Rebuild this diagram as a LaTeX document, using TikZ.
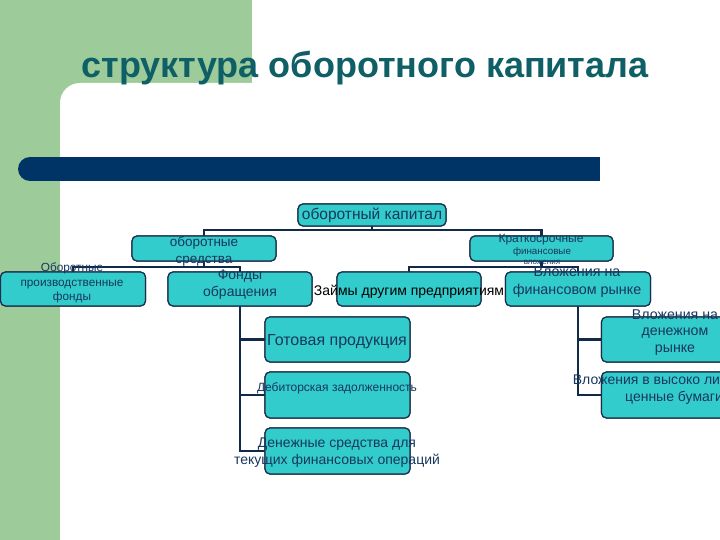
\documentclass[tikz,border=0pt]{standalone}
\usepackage{fontspec}
\setmainfont{Liberation Sans}
\definecolor{bggreen}{HTML}{9DCB99}
\definecolor{barblue}{HTML}{003366}
\definecolor{titlec}{HTML}{0E5F66}
\definecolor{boxfill}{HTML}{33CCCC}
\definecolor{boxline}{HTML}{1C2F4A}
\definecolor{txtc}{HTML}{17375E}
\definecolor{connc}{HTML}{102A47}
\newcommand{\fsz}[2]{\fontsize{#1}{#2}\selectfont}
\begin{document}
\begin{tikzpicture}[x=1pt,y=-1pt,
  box/.style n args={2}{draw=boxline, line width=1.2pt, fill=boxfill,
    rounded corners=5pt, minimum width=#1pt, minimum height=#2pt,
    inner sep=0pt, outer sep=0pt},
  conn/.style={draw=connc, line width=2.4pt},
  txt/.style={inner sep=0pt, text=txtc, align=center},
  btxt/.style={inner sep=0pt, text=black, align=center}]
\useasboundingbox (0,0) rectangle (720,540);
\clip (0,0) rectangle (720,540);
% background
\fill[white] (0,0) rectangle (720,540);
\fill[bggreen] (0,0) rectangle (252,120);
\fill[bggreen] (0,0) rectangle (60,540);
\fill[white, rounded corners=20pt] (60,83) rectangle (780,600);
\fill[barblue] (30,157) rectangle (600,181);
\fill[barblue] (30,169) circle[radius=12];
\node[anchor=base, inner sep=0pt, text=titlec, font=\fsz{36}{40}\bfseries] (title) at (365,78)
  {структура оборотного капитала};
% boxes
\node[box={148}{22}] (kap) at (372,215) {};
\node[box={144}{25}] (os)  at (204,248.5) {};
\node[box={143}{25}] (kfv) at (541.5,248.5) {};
\node[box={145}{34}] (opf) at (73,289) {};
\node[box={144}{34}] (fo)  at (240,289) {};
\node[box={144}{34}] (zm)  at (409,289) {};
\node[box={145}{34}] (vfr) at (578,289) {};
\node[box={145}{45}] (gp)  at (337.5,339.5) {};
\node[box={145}{46}] (dz)  at (337.5,395) {};
\node[box={145}{46}] (ds)  at (337.5,451) {};
\node[box={145}{45}] (vdr) at (674,339.5) {};
\node[box={145}{46}] (vcb) at (674,395) {};
% connectors
\coordinate (j1) at (372,230);
\coordinate (j2) at (204,267);
\coordinate (j3) at (541.5,267);
\draw[conn] (kap.south) -- (j1);
\draw[conn] (os.north) |- (j1) -| (kfv.north);
\draw[conn] (os.south) -- (j2);
\draw[conn] (opf.north) |- (j2) -| (fo.north);
\draw[conn] (kfv.south) -- (j3);
\draw[conn] (zm.north) |- (j3) -| (vfr.north);
\draw[conn] (fo.south) |- (gp.west);
\draw[conn] (fo.south) |- (dz.west);
\draw[conn] (fo.south) |- (ds.west);
\draw[conn] (vfr.south) |- (vdr.west);
\draw[conn] (vfr.south) |- (vcb.west);
% redraw boxes on top of connectors
\foreach \n in {kap,os,kfv,opf,fo,zm,vfr,gp,dz,ds,vdr,vcb}{
  \path[draw=boxline, line width=1.2pt, fill=boxfill, rounded corners=5pt]
    (\n.south west) rectangle (\n.north east);
}
% texts
\node[txt, font=\fsz{15.5}{17}] (tkap) at (372,215) {оборотный капитал};
\node[txt, font=\fsz{13.5}{17}] (tos) at (204,251.5) {оборотные\\средства};
\node[txt, font=\fsz{12}{12}] (tkfv1) at (541,240) {Краткосрочные};
\node[txt, font=\fsz{9.8}{10}] (tkfv2) at (542,252) {финансовые};
\node[txt, font=\fsz{8}{9}] (tkfv3) at (542,262.5) {вложения};
\node[txt, font=\fsz{11.8}{14.5}] (topf) at (72,283) {Оборотные\\производственные\\фонды};
\node[txt, font=\fsz{14}{17.5}] (tfo) at (240,284.5) {Фонды\\обращения};
\node[btxt, font=\fsz{14}{16}] (tzm) at (409,291.5) {Займы другим предприятиям};
\node[txt, font=\fsz{14.3}{18}] (tvfr) at (577,282.5) {Вложения на\\финансовом рынке};
\node[txt, font=\fsz{16}{18}] (tgp) at (337,341.5) {Готовая продукция};
\node[txt, font=\fsz{12}{13}] (tdz) at (337,388.5) {Дебиторская задолженность};
\node[txt, font=\fsz{14}{17}] (tds) at (337,453) {Денежные средства для\\текущих финансовых операций};
\node[txt, font=\fsz{14.2}{16.5}] (tvdr) at (675,332.5) {Вложения на\\денежном\\рынке};
\node[txt, font=\fsz{14}{17}] (tvcb) at (674,389.5) {Вложения в высоко ликвидные\\ценные бумаги};
\end{tikzpicture}
\end{document}
